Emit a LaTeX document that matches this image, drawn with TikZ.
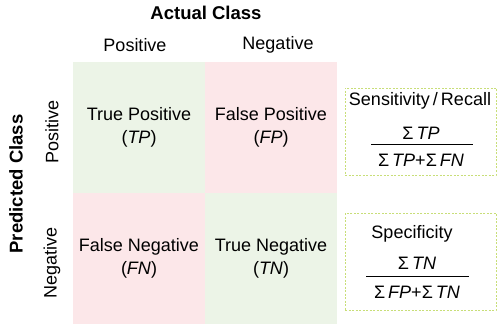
\documentclass[tikz,border=0pt]{standalone}
\usepackage{fontspec}
\setmainfont{Liberation Sans}
\usetikzlibrary{positioning}
\definecolor{cellgreen}{RGB}{236,244,231}
\definecolor{cellpink}{RGB}{252,231,233}
\definecolor{boxline}{RGB}{200,222,120}

\begin{document}
\begin{tikzpicture}[x=1pt,y=-1pt,font=\fontsize{18}{23}\selectfont,
    cell/.style={minimum width=132pt,minimum height=131pt,inner sep=0pt,align=center},
    head/.style={font=\fontsize{18.5}{22}\selectfont\bfseries},
    metric/.style={draw=boxline,dash pattern=on 2pt off 1.5pt,line width=0.8pt,minimum width=151pt,inner sep=0pt},
    frac/.style={inner sep=1pt}]
\useasboundingbox (0,0) rectangle (498,326);
% confusion matrix
\node[cell,fill=cellgreen] (tp) at (139,127.5) {True Positive\\(\textit{TP})};
\node[cell,fill=cellpink] (fp) at (271,127.5) {False Positive\\(\textit{FP})};
\node[cell,fill=cellpink] (fn) at (139,258.5) {False Negative\\(\textit{FN})};
\node[cell,fill=cellgreen] (tn) at (271,258.5) {True Negative\\(\textit{TN})};
% headers
\node[head] (actual) at (206,13) {Actual Class};
\node (colpos) at (135,45) {Positive};
\node (colneg) at (278,45) {Negative};
\node[head,rotate=90] (predicted) at (16,184) {Predicted Class};
\node[rotate=90] (rowpos) at (52,132) {Positive};
\node[rotate=90] (rowneg) at (52,263) {Negative};
% metrics
\node[metric,minimum height=87pt] (sens) at (420.5,131.5) {};
\node (senslabel) at (420,101) {Sensitivity\,/\,Recall};
\node[frac] (sensnum) at (421,133) {Σ\,\textit{TP}};
\node[frac] (sensden) at (421,160) {Σ\,\textit{TP}+Σ\,\textit{FN}};
\coordinate (sensa) at (371,144);
\coordinate (sensb) at (473,144);
\draw[line width=0.9pt] (sensa) -- (sensb);
\node[metric,minimum height=97pt] (spec) at (420.5,261.5) {};
\node (speclabel) at (412,234) {Specificity};
\node[frac] (specnum) at (417,263) {Σ\,\textit{TN}};
\node[frac] (specden) at (417,292) {Σ\,\textit{FP}+Σ\,\textit{TN}};
\coordinate (speca) at (366,276);
\coordinate (specb) at (469,276);
\draw[line width=0.9pt] (speca) -- (specb);
\end{tikzpicture}
\end{document}
